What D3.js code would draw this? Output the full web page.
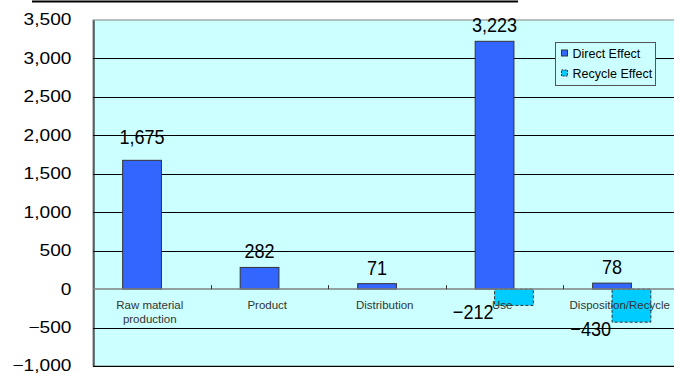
<!DOCTYPE html>
<html>
<head>
<meta charset="utf-8">
<script src="https://cdn.jsdelivr.net/npm/d3@7"></script>
<style>
  body { margin: 0; background: #fff; }
  svg { display: block; }
</style>
</head>
<body>
<div id="chart"></div>
<script>
var categories = ["Raw material production", "Product", "Distribution", "Use", "Disposition/Recycle"];
var catLines = [["Raw material", "production"], ["Product"], ["Distribution"], ["Use"], ["Disposition/Recycle"]];
var directEffect = [1675, 282, 71, 3223, 78];
var recycleEffect = [0, 0, 0, -212, -430];
var seriesNames = ["Direct Effect", "Recycle Effect"];
var yTicks = [-1000, -500, 0, 500, 1000, 1500, 2000, 2500, 3000, 3500];

var width = 674, height = 374;

var svg = d3.select("#chart")
    .append("svg")
    .attr("width", width)
    .attr("height", height);

var x = d3.scaleBand()
    .domain(categories)
    .range([93, 680.5]);

var y = d3.scaleLinear()
    .domain([-1000, 3500])
    .range([366, 20]);

var fmt = d3.format(",");
var bw = x.bandwidth() * 0.33;

function cx(i) {
    return x(categories[i]) + x.bandwidth() / 2;
}

// title underline (title itself is cut off above the frame)
svg.append("line")
    .attr("x1", 32).attr("x2", 518)
    .attr("y1", 1.5).attr("y2", 1.5)
    .attr("stroke", "#000").attr("stroke-width", 2);

// plot background
svg.append("rect")
    .attr("x", x.range()[0])
    .attr("y", y(3500))
    .attr("width", x.range()[1] - x.range()[0])
    .attr("height", y(-1000) - y(3500))
    .attr("fill", "#CCFFFF")
    .attr("stroke", "#808080");

// gridlines
svg.selectAll(".grid")
    .data(yTicks.filter(function (d) { return d != 0 && d != 3500; }))
    .enter()
    .append("line")
    .attr("class", "grid")
    .attr("x1", x.range()[0]).attr("x2", x.range()[1])
    .attr("y1", function (d) { return Math.round(y(d)) + 0.5; })
    .attr("y2", function (d) { return Math.round(y(d)) + 0.5; })
    .attr("stroke", "#000")
    .attr("stroke-width", 1);

// y axis (labels stretched a little to match the wide original face)
var yAxis = svg.append("g")
    .attr("transform", "translate(93.5,0)")
    .call(d3.axisLeft(y).tickValues(yTicks).tickSize(0).tickFormat(fmt));
yAxis.select(".domain").attr("stroke", "#000");
yAxis.selectAll("text")
    .style("font-family", "'Liberation Sans', Arial, sans-serif")
    .style("font-size", "16.5px")
    .attr("x", -19)
    .attr("dy", "0.3em")
    .attr("transform", "scale(1.16,1)")
    .attr("fill", "#000");

// direct bars
svg.selectAll(".direct")
    .data(directEffect)
    .enter()
    .append("rect")
    .attr("class", "direct")
    .attr("x", function (d, i) { return cx(i) - bw * 0.75; })
    .attr("y", function (d) { return y(Math.max(0, d)); })
    .attr("width", bw)
    .attr("height", function (d) { return Math.abs(y(d) - y(0)); })
    .attr("fill", "#3366FF")
    .attr("stroke", "#333")
    .attr("stroke-width", 1);

// recycle bars
svg.selectAll(".recycle")
    .data(recycleEffect)
    .enter()
    .append("rect")
    .attr("class", "recycle")
    .attr("x", function (d, i) { return cx(i) - bw * 0.25; })
    .attr("y", function (d) { return y(Math.max(0, d)); })
    .attr("width", bw)
    .attr("height", function (d) { return Math.abs(y(d) - y(0)); })
    .attr("fill", "#00CCFF")
    .attr("stroke", function (d) { return d == 0 ? "none" : "#333"; })
    .attr("stroke-dasharray", "3,2")
    .attr("stroke-width", 1);

// category axis (zero line) with inside ticks
svg.append("line")
    .attr("x1", x.range()[0]).attr("x2", x.range()[1])
    .attr("y1", y(0)).attr("y2", y(0))
    .attr("stroke", "#808080").attr("stroke-width", 1.5);

svg.selectAll(".ctick")
    .data(categories.slice(1))
    .enter()
    .append("line")
    .attr("x1", function (d) { return Math.round(x(d)) + 0.5; })
    .attr("x2", function (d) { return Math.round(x(d)) + 0.5; })
    .attr("y1", y(0) - 4).attr("y2", y(0))
    .attr("stroke", "#333");

// category labels
var cl = svg.selectAll(".clabel")
    .data(categories)
    .enter()
    .append("text")
    .attr("class", "clabel")
    .attr("text-anchor", "middle")
    .style("font-family", "'Liberation Sans', Arial, sans-serif")
    .style("font-size", "11.5px")
    .attr("fill", "#333");

cl.selectAll("tspan")
    .data(function (d, i) { return catLines[i].map(function (t) { return { t: t, c: d }; }); })
    .enter()
    .append("tspan")
    .attr("x", function (d) { return x(d.c) + x.bandwidth() / 2 - 2; })
    .attr("y", function (d, j) { return 309 + j * 14; })
    .text(function (d) { return d.t; });

// data labels, slightly condensed
var labelFont = "'Liberation Sans', Arial, sans-serif";

function dataLabel(px, py, v) {
    svg.append("text")
        .attr("text-anchor", "middle")
        .attr("transform", "translate(" + px + "," + py + ") scale(0.88,1)")
        .style("font-family", labelFont)
        .style("font-size", "20.5px")
        .attr("fill", "#000")
        .text(fmt(v));
}

directEffect.forEach(function (d, i) {
    dataLabel(cx(i) - bw * 0.25, y(d) - (i == 0 ? 16 : 9), d);
});

recycleEffect.forEach(function (d, i) {
    if (d == 0) return;
    dataLabel(cx(i) - bw * 0.75 - 2, y(d) + 14, d);
});

// legend
var legend = svg.append("g").attr("transform", "translate(555.5,42.5)");
legend.append("rect")
    .attr("width", 100).attr("height", 43)
    .attr("fill", "#CCFFFF")
    .attr("stroke", "#555");

var items = legend.selectAll(".item")
    .data(seriesNames)
    .enter()
    .append("g")
    .attr("transform", function (d, i) { return "translate(6," + (11 + i * 20) + ")"; });

items.append("rect")
    .attr("x", 0).attr("y", -3.5)
    .attr("width", 6).attr("height", 6)
    .attr("fill", function (d, i) { return i == 0 ? "#3366FF" : "#00CCFF"; })
    .attr("stroke", "#333")
    .attr("stroke-dasharray", function (d, i) { return i == 0 ? null : "2,1"; });

items.append("text")
    .attr("x", 11).attr("y", 4.5)
    .style("font-family", "'Liberation Sans', Arial, sans-serif")
    .style("font-size", "12.5px")
    .attr("fill", "#000")
    .text(function (d) { return d; });
</script>
</body>
</html>
